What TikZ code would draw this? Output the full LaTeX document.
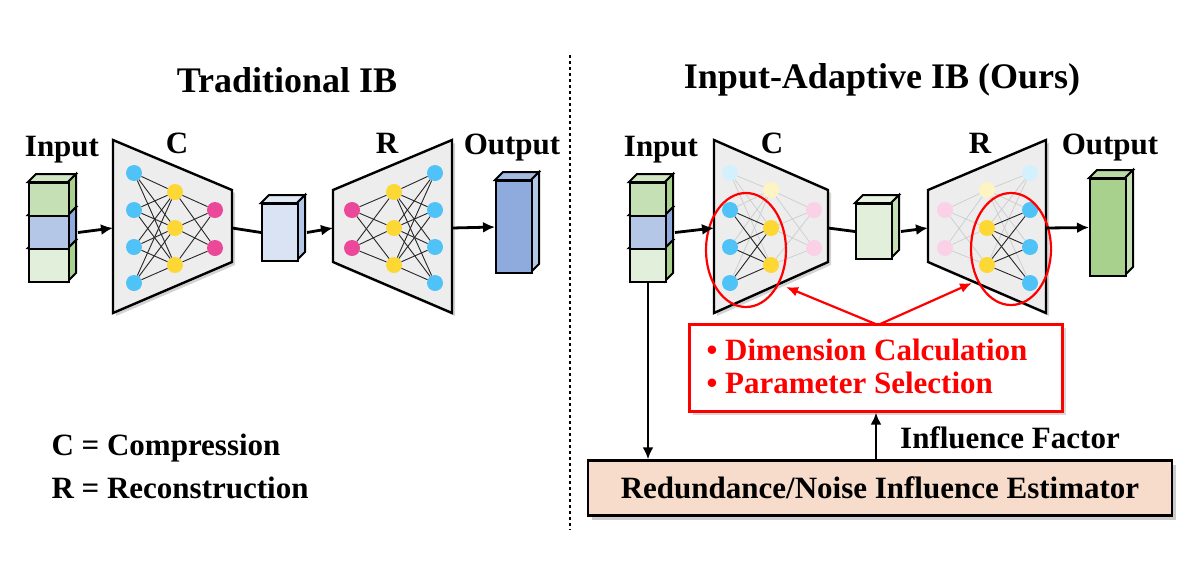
\documentclass[tikz,border=0pt]{standalone}
\usepackage{fontspec}
\setmainfont{Liberation Serif}
\usetikzlibrary{arrows.meta,shadows}
\definecolor{nblue}{HTML}{4FC3F7}
\definecolor{nyel}{HTML}{FDD835}
\definecolor{npink}{HTML}{EC4899}
\definecolor{gA}{HTML}{C5E0B4}
\definecolor{gB}{HTML}{E2EFDA}
\definecolor{gC}{HTML}{A9D18E}
\definecolor{bA}{HTML}{B4C7E7}
\definecolor{bB}{HTML}{DAE3F3}
\definecolor{bC}{HTML}{8FAADC}
\definecolor{peach}{HTML}{F8DCCB}
\definecolor{trap}{HTML}{EDEDED}
\tikzset{
  lab/.style={font=\fontsize{31}{34}\selectfont\bfseries},
  ttl/.style={font=\fontsize{36}{40}\selectfont\bfseries},
  neu/.style={circle,inner sep=0pt,minimum size=16pt},
  conn/.style={line width=0.9pt,black!85},
  fconn/.style={line width=0.7pt,black!20},
  arr/.style={-{Latex[length=12pt,width=11pt]},line width=2.8pt},
  redarr/.style={-{Latex[length=12pt,width=10pt]},red,line width=2.2pt},
  trapz/.style={draw,line width=2.4pt,fill=trap,drop shadow={shadow xshift=3pt,shadow yshift=-3pt,opacity=0.35}},
}
% cube: name, x, y (top-left of front face), w, h, front, side
\newcommand\mycube[7]{%
  \draw[line width=2pt,fill=#6!80!white] (#2,#3) -- ++(8,-8) -- ++(#4,0) -- ++(-8,8) -- cycle;
  \draw[line width=2pt,fill=#7] (#2+#4,#3) -- ++(8,-8) -- ++(0,#5) -- ++(-8,8) -- cycle;
  \node[draw,line width=2pt,fill=#6,minimum width=#4pt,minimum height=#5pt,inner sep=0pt,anchor=north west] (#1) at (#2,#3) {};
}
\begin{document}
\begin{tikzpicture}[x=1pt,y=-1pt]
\useasboundingbox (0,0) rectangle (1200,571);
% ---------------- left
\node[ttl] (t1) at (287,80) {Traditional IB};
\draw[dashed,line width=2pt] (570,55) coordinate (d1) -- (570,530) coordinate (d2);
\node[lab] (in1) at (62,150) {Input};
\mycube{a3}{28}{248}{40}{33}{gB}{gC}
\mycube{a2}{28}{215}{40}{33}{bA}{bC}
\mycube{a1}{28}{182}{40}{33}{gA}{gC}
\draw[trapz] (113,140) coordinate (c1) -- (232,190) -- (232,262) -- (113,313) -- cycle;
\node[lab] (lc1) at (177,143) {C};
\foreach \i/\y in {1/173,2/210,3/247,4/283} \node[neu,fill=nblue] (cb\i) at (134,\y) {};
\foreach \i/\y in {1/192,2/228,3/265} \node[neu,fill=nyel] (cy\i) at (175,\y) {};
\foreach \i/\y in {1/210,2/248} \node[neu,fill=npink] (cp\i) at (215,\y) {};
\foreach \i in {1,...,4} \foreach \j in {1,2,3} \draw[conn] (cb\i) -- (cy\j);
\foreach \i in {1,2,3} \foreach \j in {1,2} \draw[conn] (cy\i) -- (cp\j);
\draw[arr] (a2.east) ++(8,0) -- (113,228);
\mycube{m1}{261}{203}{36}{57}{bB}{bA}
\draw[line width=2.8pt] (232,228) -- (m1.west);
\draw[trapz] (333,190) -- (452,140) -- (452,313) -- (333,262) -- cycle;
\node[lab] (lr1) at (387,143) {R};
\draw[arr] (m1.east) ++(8,0) -- (333,228);
\foreach \i/\y in {1/210,2/248} \node[neu,fill=npink] (rp\i) at (352,\y) {};
\foreach \i/\y in {1/192,2/228,3/265} \node[neu,fill=nyel] (ry\i) at (394,\y) {};
\foreach \i/\y in {1/173,2/210,3/247,4/283} \node[neu,fill=nblue] (rb\i) at (435,\y) {};
\foreach \i in {1,2} \foreach \j in {1,2,3} \draw[conn] (rp\i) -- (ry\j);
\foreach \i in {1,2,3} \foreach \j in {1,...,4} \draw[conn] (ry\i) -- (rb\j);
\node[lab] (out1) at (512,148) {Output};
\mycube{o1}{495}{180}{36}{92}{bC}{bA}
\draw[arr] (452,228) -- (o1.west);
\node[lab,anchor=west] (leg1) at (48,448) {C = Compression};
\node[lab,anchor=west] (leg2) at (48,488) {R = Reconstruction};
% ---------------- right
\node[ttl] (t2) at (882,80) {Input-Adaptive IB (Ours)};
\node[lab] (in2) at (661,150) {Input};
\mycube{b3}{629}{248}{36}{33}{gB}{gC}
\mycube{b2}{629}{215}{36}{33}{bA}{bC}
\mycube{b1}{629}{182}{36}{33}{gA}{gC}
\draw[trapz] (714,140) -- (828,190) -- (828,262) -- (714,313) -- cycle;
\node[lab] (lc2) at (772,143) {C};
\node[neu,fill=nblue!25] (db1) at (730,173) {};
\foreach \i/\y in {2/210,3/247,4/283} \node[neu,fill=nblue] (db\i) at (730,\y) {};
\node[neu,fill=nyel!30] (dy1) at (771,190) {};
\foreach \i/\y in {2/228,3/265} \node[neu,fill=nyel] (dy\i) at (771,\y) {};
\foreach \i/\y in {1/210,2/248} \node[neu,fill=npink!25] (dp\i) at (814,\y) {};
\foreach \j in {1,2,3} \draw[fconn] (db1) -- (dy\j);
\foreach \i in {2,3,4} \draw[fconn] (db\i) -- (dy1);
\foreach \i in {1,2,3} \foreach \j in {1,2} \draw[fconn] (dy\i) -- (dp\j);
\foreach \i in {2,3,4} \foreach \j in {2,3} \draw[conn] (db\i) -- (dy\j);
\draw[red,line width=2.2pt] (746,250) ellipse [x radius=40, y radius=57];
\draw[arr] (b2.east) ++(8,0) -- (714,228);
\mycube{m2}{855}{203}{36}{55}{gB}{gA}
\draw[line width=2.8pt] (828,228) -- (m2.west);
\draw[trapz] (928,190) -- (1046,140) -- (1046,313) -- (928,262) -- cycle;
\node[lab] (lr2) at (980,143) {R};
\draw[arr] (m2.east) ++(8,0) -- (928,228);
\foreach \i/\y in {1/210,2/248} \node[neu,fill=npink!25] (sp\i) at (945,\y) {};
\node[neu,fill=nyel!30] (sy1) at (987,190) {};
\foreach \i/\y in {2/228,3/265} \node[neu,fill=nyel] (sy\i) at (987,\y) {};
\node[neu,fill=nblue!25] (sb1) at (1030,173) {};
\foreach \i/\y in {2/210,3/247,4/283} \node[neu,fill=nblue] (sb\i) at (1030,\y) {};
\foreach \i in {1,2} \foreach \j in {1,2,3} \draw[fconn] (sp\i) -- (sy\j);
\foreach \j in {1,...,4} \draw[fconn] (sy1) -- (sb\j);
\foreach \i in {2,3} \draw[fconn] (sy\i) -- (sb1);
\foreach \i in {2,3} \foreach \j in {2,3,4} \draw[conn] (sy\i) -- (sb\j);
\draw[red,line width=2.2pt] (1011,249) ellipse [x radius=40, y radius=56];
\node[lab] (out2) at (1110,148) {Output};
\mycube{o2}{1089}{178}{36}{97}{gC}{gA}
\draw[arr] (1046,228) -- (o2.west);
% red box
\node[draw=red,line width=2.2pt,fill=white,minimum width=373pt,minimum height=87pt,drop shadow={shadow xshift=3pt,shadow yshift=-3pt,opacity=0.3}] (rb) at (876,368) {};
\node[lab,red,anchor=west] (r1) at (703,350) {• Dimension Calculation};
\node[lab,red,anchor=west] (r2) at (703,383) {• Parameter Selection};
\coordinate (rt) at (878,325);
\draw[redarr] (rt) -- (786,287);
\draw[redarr] (rt) -- (972,283);
% estimator
\node[draw,line width=2.4pt,fill=peach,minimum width=584pt,minimum height=55pt,drop shadow={shadow xshift=4pt,shadow yshift=-4pt,opacity=0.4},lab] (est) at (880,488) {Redundance/Noise Influence Estimator};
\draw[arr] (est.north -| rb.south) -- (rb.south);
\node[lab] (inf) at (1010,438) {Influence Factor};
\draw[arr] (b3.south) -- (b3.south |- est.north);
\end{tikzpicture}
\end{document}
